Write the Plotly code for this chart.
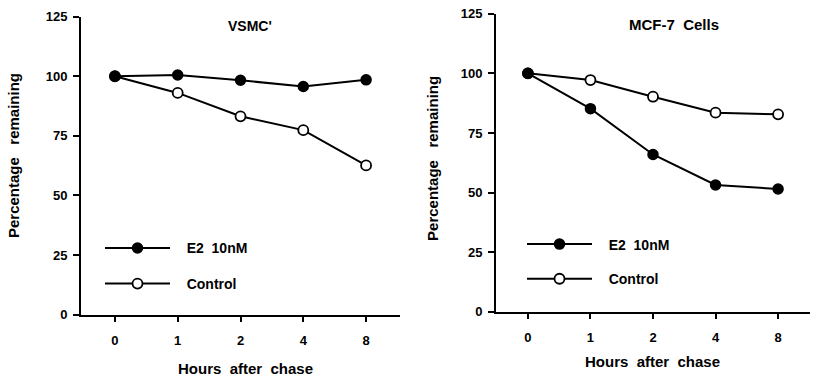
import plotly.graph_objects as go

# ---------------- data ----------------
hours = ["0", "1", "2", "4", "8"]
vsmc_e2 = [100, 100.5, 98.3, 95.7, 98.5]
vsmc_control = [100, 93, 83.2, 77.4, 62.6]
mcf7_e2 = [100, 85.2, 66, 53.2, 51.5]
mcf7_control = [100, 97.2, 90.2, 83.5, 82.8]
y_ticks = [0, 25, 50, 75, 100, 125]
series_names = ["E2\u00a0\u00a010nM", "Control"]
panel_titles = ["VSMC'", "MCF-7\u00a0\u00a0Cells"]
x_title = "Hours\u00a0\u00a0after\u00a0\u00a0chase"
y_title = "Percentage\u00a0\u00a0\u00a0remaining"

W, H = 817, 391
FONT = "Liberation Sans, Arial, sans-serif"
PAD = "\u00a0\u00a0\u00a0"

def px(x):
    return x / W

def py(y):
    return 1 - y / H

fig = go.Figure()

line_style = dict(color="black", width=2)
filled = dict(symbol="circle", size=10, color="black", line=dict(color="black", width=1.5))
hollow = dict(symbol="circle", size=10, color="white", line=dict(color="black", width=1.8))

panels = [
    ("x", "y", vsmc_e2, vsmc_control, ("legend", "legend2")),
    ("x2", "y2", mcf7_e2, mcf7_control, ("legend3", "legend4")),
]
for xa, ya, e2, ctl, lg in panels:
    fig.add_trace(go.Scatter(x=hours, y=ctl, mode="lines+markers", name=PAD + series_names[1],
                             line=line_style, marker=hollow, xaxis=xa, yaxis=ya,
                             legend=lg[1], showlegend=True, cliponaxis=False))
    fig.add_trace(go.Scatter(x=hours, y=e2, mode="lines+markers", name=PAD + series_names[0],
                             line=line_style, marker=filled, xaxis=xa, yaxis=ya,
                             legend=lg[0], showlegend=True, cliponaxis=False))

tickfont = dict(family=FONT, size=13, color="black", weight="bold")
common_x = dict(type="category", showline=True, linecolor="black", linewidth=2,
                ticks="outside", ticklen=5, tickwidth=1.5, tickcolor="black",
                tickfont=tickfont, showgrid=False, zeroline=False, ticklabelstandoff=8,
                fixedrange=True)
common_y = dict(showline=True, linecolor="black", linewidth=2, range=[0, 125],
                tickvals=y_ticks, ticks="outside", ticklen=6, tickwidth=1.5,
                tickcolor="black", tickfont=tickfont, showgrid=False, zeroline=False,
                ticklabelstandoff=3, fixedrange=True)

legend_font = dict(family=FONT, size=14, color="black", weight="bold")

def legend_at(x, y):
    return dict(x=px(x), y=py(y), xanchor="left", yanchor="middle", xref="paper", yref="paper",
                bgcolor="rgba(0,0,0,0)", borderwidth=0, font=legend_font, itemwidth=65,
                itemclick=False, itemdoubleclick=False)

fig.update_layout(
    width=W, height=H,
    margin=dict(l=0, r=0, t=0, b=0),
    paper_bgcolor="white", plot_bgcolor="white",
    font=dict(family=FONT, color="black"),
    xaxis=dict(domain=[px(81), px(400)], range=[-0.54, 4.54], anchor="y", **common_x),
    yaxis=dict(domain=[py(320), py(10)], anchor="x", **common_y),
    xaxis2=dict(domain=[px(496), px(810)], range=[-0.51, 4.51], anchor="y2", **common_x),
    yaxis2=dict(domain=[py(317), py(7)], anchor="x2", **common_y),
    legend=legend_at(100, 251),
    legend2=legend_at(100, 288),
    legend3=legend_at(522, 247),
    legend4=legend_at(522, 283),
)

annotations = [
    dict(text=panel_titles[0], x=px(250), y=py(20), size=14),
    dict(text=panel_titles[1], x=px(674), y=py(18), size=15),
    dict(text=x_title, x=px(246), y=py(376), size=15),
    dict(text=x_title, x=px(652), y=py(369), size=15),
    dict(text=y_title, x=px(13), y=py(155), textangle=-90, size=15),
    dict(text=y_title, x=px(433), y=py(158), textangle=-90, size=15),
]
for a in annotations:
    size = a.pop("size")
    a.update(xref="paper", yref="paper", xanchor="center", yanchor="middle",
             showarrow=False, font=dict(family=FONT, size=size, color="black", weight="bold"))
    fig.add_annotation(**a)

fig.write_html("out.html")
